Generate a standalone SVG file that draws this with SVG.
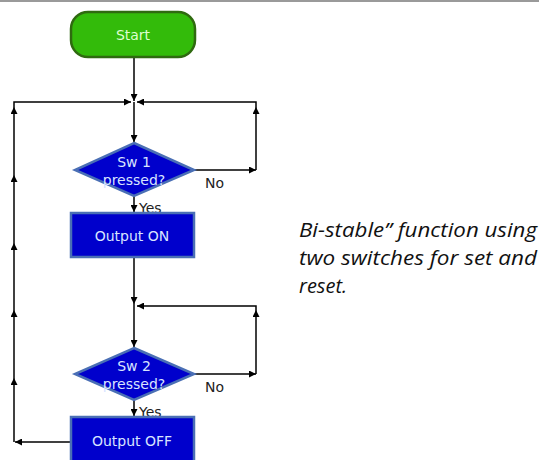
<svg xmlns="http://www.w3.org/2000/svg" width="539" height="460" viewBox="0 0 539 460">
<defs>
<marker id="ah" viewBox="0 0 8 8" refX="8" refY="4" markerWidth="7" markerHeight="7" markerUnits="userSpaceOnUse" orient="auto">
<path d="M0,0 L8,4 L0,8 Z" fill="#000"/>
</marker>
</defs>
<style>
.ln{fill:none;stroke:#000;stroke-width:1.5}
.ar{fill:none;stroke:#000;stroke-width:1.5;marker-end:url(#ah)}
.blue{fill:#0000cc;stroke:#4a6fb5;stroke-width:2.5}
.lt{font-family:"DejaVu Sans",Verdana,sans-serif;font-size:14px;fill:#d8e4ff;text-anchor:middle}
.lb{font-family:"DejaVu Sans",Verdana,sans-serif;font-size:14px;fill:#222}
.note{font-family:"Open Sans","Liberation Sans",sans-serif;font-style:italic;font-size:20px;fill:#111}
</style>
<rect x="0" y="0" width="539" height="460" fill="#fff"/>
<rect x="0" y="0" width="539" height="2" fill="#9a9a9a"/>
<g id="connectors">
<path class="ar" d="M134,57 V101"/>
<path class="ar" d="M70,442 H15"/>
<path class="ar" d="M14,442 V378"/>
<path class="ar" d="M14,378 V310"/>
<path class="ar" d="M14,310 V243"/>
<path class="ar" d="M14,243 V175"/>
<path class="ar" d="M14,175 V107"/>
<path class="ar" d="M14,107 V102 H131"/>
<path class="ar" d="M195,170 H256"/>
<path class="ar" d="M256,170 V107"/>
<path class="ar" d="M256,107 V102 H137"/>
<path class="ar" d="M134,102 V142"/>
<path class="ar" d="M134,195 V212"/>
<path class="ar" d="M134,257 V304"/>
<path class="ar" d="M256,374 V310"/>
<path class="ar" d="M256,310 V306 H137"/>
<path class="ar" d="M134,304 V347"/>
<path class="ar" d="M195,374 H256"/>
<path class="ar" d="M134,400 V416"/>
</g>
<g id="start">
<rect x="71" y="12" width="124" height="45" rx="17" ry="17" fill="#33bb0a" stroke="#2f6a10" stroke-width="2.5"/>
<text x="133" y="40" class="lt" style="fill:#ddffd0">Start</text>
</g>
<g id="sw1">
<polygon points="134,143 194,170 134,196 75,170" class="blue"/>
<text x="134" y="167" class="lt">Sw 1</text>
<text x="134" y="185" class="lt">pressed?</text>
<text x="205" y="188" class="lb">No</text>
<text x="139" y="213" class="lb">Yes</text>
</g>
<g id="outon">
<rect x="71" y="213" width="123" height="44" class="blue"/>
<text x="132" y="241" class="lt">Output ON</text>
</g>
<g id="sw2">
<polygon points="134,348 194,374 134,400 75,374" class="blue"/>
<text x="134" y="371" class="lt">Sw 2</text>
<text x="134" y="389" class="lt">pressed?</text>
<text x="205" y="392" class="lb">No</text>
<text x="139" y="417" class="lb">Yes</text>
</g>
<g id="outoff">
<rect x="71" y="417" width="123" height="46" class="blue"/>
<text x="132" y="446" class="lt">Output OFF</text>
</g>
<g id="note">
<text x="299" y="237" class="note" textLength="238" lengthAdjust="spacingAndGlyphs">Bi-stable” function using</text>
<text x="299" y="265" class="note" textLength="238" lengthAdjust="spacingAndGlyphs">two switches for set and</text>
<text x="299" y="293" class="note">reset.</text>
</g>
</svg>
